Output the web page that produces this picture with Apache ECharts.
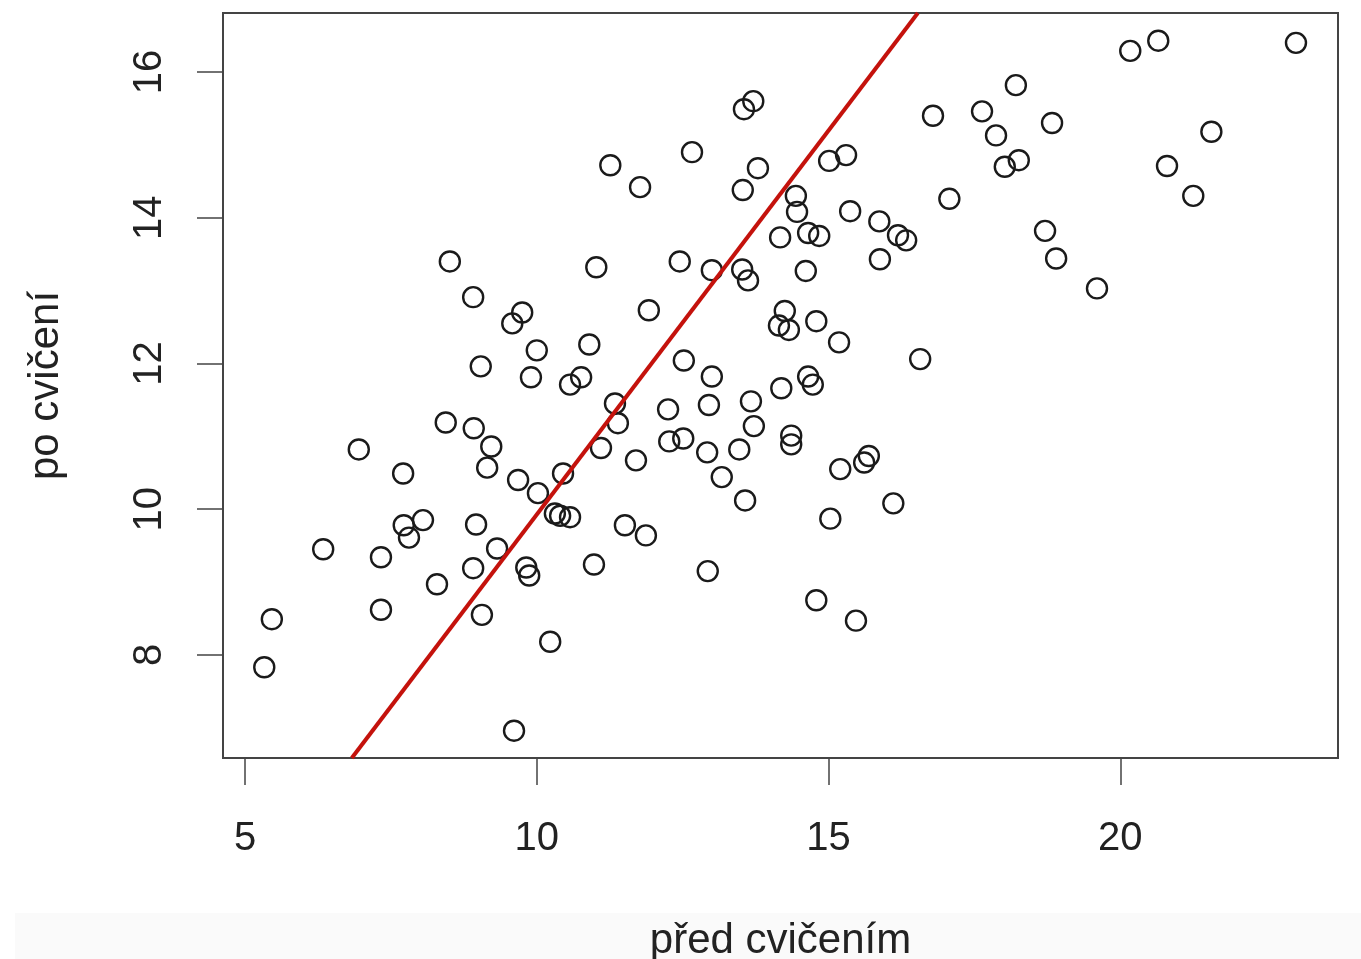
<!DOCTYPE html>
<html>
<head>
<meta charset="utf-8">
<script src="https://cdn.jsdelivr.net/npm/echarts@6/dist/echarts.min.js"></script>
<style>
html,body{margin:0;padding:0;background:#fff;}
#chart{width:1361px;height:959px;}
</style>
</head>
<body>
<div id="chart"></div>
<script>
// Data
const predCvicenim = [5.33,5.46,6.34,6.95,7.33,7.33,7.71,7.72,7.81,8.05,8.29,8.44,8.51,8.91,8.92,8.96,8.91,9.04,9.06,9.22,9.15,9.32,9.58,9.75,9.68,9.61,9.82,9.87,9.90,10.00,10.02,10.23,10.31,10.40,10.57,10.45,10.57,10.76,10.90,10.98,11.02,11.10,11.26,11.34,11.39,11.51,11.70,11.77,11.87,11.92,12.25,12.27,12.45,12.51,12.52,12.66,12.92,12.93,12.95,13.00,13.00,13.17,13.47,13.52,13.53,13.55,13.57,13.62,13.71,13.67,13.72,13.79,14.17,14.15,14.25,14.32,14.19,14.36,14.36,14.44,14.46,14.65,14.84,14.61,14.65,14.73,14.79,14.79,15.01,15.30,15.18,15.20,15.03,15.37,15.47,15.61,15.69,15.87,15.88,16.11,16.19,16.33,16.57,16.79,17.07,17.63,17.87,18.02,18.26,18.21,18.71,18.83,18.90,19.60,20.17,20.65,20.80,21.25,21.56,23.01];
const poCviceni = [7.83,8.49,9.45,10.82,9.34,8.62,10.49,9.78,9.61,9.85,8.97,11.19,13.40,12.91,11.11,9.79,9.19,11.96,8.55,10.86,10.57,9.46,12.55,12.70,10.40,6.96,9.20,9.09,11.81,12.18,10.22,8.18,9.94,9.91,9.89,10.49,11.71,11.81,12.26,9.24,13.32,10.84,14.72,11.45,11.18,9.78,10.67,14.42,9.64,12.73,11.37,10.93,13.40,10.97,12.04,14.90,10.78,9.15,11.43,13.28,11.82,10.44,10.82,13.29,14.38,15.49,10.12,13.14,15.60,11.48,11.14,14.68,13.73,12.52,12.72,12.46,11.66,11.01,10.89,14.30,14.08,13.79,13.75,13.27,11.82,11.71,12.58,8.75,14.78,14.86,12.29,10.55,9.87,14.09,8.47,10.64,10.73,13.95,13.43,10.08,13.76,13.69,12.06,15.40,14.26,15.46,15.13,14.70,14.79,15.82,13.82,15.30,13.44,13.03,16.29,16.43,14.71,14.30,15.18,16.40];
const lineX = [6.83, 16.53];
const lineY = [6.585, 16.81];
const xTicks = [5, 10, 15, 20];
const yTicks = [8, 10, 12, 14, 16];

const points = predCvicenim.map((x, i) => [x, poCviceni[i]]);
const linePts = lineX.map((x, i) => [x, lineY[i]]);

const FONT = '"Liberation Sans", Arial, Helvetica, sans-serif';
const chart = echarts.init(document.getElementById('chart'), null, {renderer: 'canvas'});
chart.setOption({
  animation: false,
  backgroundColor: '#ffffff',
  graphic: [{
    type: 'rect', z: -10, silent: true,
    shape: {x: 15, y: 913, width: 1346, height: 46},
    style: {fill: '#fafafa'}
  }],
  grid: {
    left: 223, right: 23, top: 13, bottom: 201,
    containLabel: false, outerBoundsMode: 'none',
    show: true, borderColor: '#444', borderWidth: 2, backgroundColor: 'transparent'
  },
  xAxis: {
    type: 'value', min: 4.623, max: 23.73,
    name: 'před cvičením', nameLocation: 'middle', nameGap: 162,
    nameTextStyle: {fontFamily: FONT, fontSize: 42, color: '#222'},
    axisLine: {show: false},
    splitLine: {show: false},
    axisTick: {show: true, length: 27, lineStyle: {color: '#444', width: 1.5}, customValues: xTicks},
    axisLabel: {fontFamily: FONT, fontSize: 40, color: '#222', margin: 61, customValues: xTicks}
  },
  yAxis: {
    type: 'value', min: 6.585, max: 16.81,
    name: 'po cvičení', nameLocation: 'middle', nameGap: 156, nameRotate: 90,
    nameTextStyle: {fontFamily: FONT, fontSize: 42, color: '#222'},
    axisLine: {show: false},
    splitLine: {show: false},
    axisTick: {show: true, length: 26, lineStyle: {color: '#444', width: 1.5}, customValues: yTicks},
    axisLabel: {fontFamily: FONT, fontSize: 40, color: '#222', margin: 53, rotate: 90, customValues: yTicks}
  },
  series: [{
    type: 'scatter',
    data: points,
    symbol: 'circle',
    symbolSize: 20,
    itemStyle: {color: 'rgba(0,0,0,0)', borderColor: '#1a1a1a', borderWidth: 2.4, opacity: 1},
    z: 2
  }, {
    type: 'line',
    data: linePts,
    symbol: 'none',
    clip: true,
    lineStyle: {color: '#c4120c', width: 4},
    z: 3
  }]
});
</script>
</body>
</html>
